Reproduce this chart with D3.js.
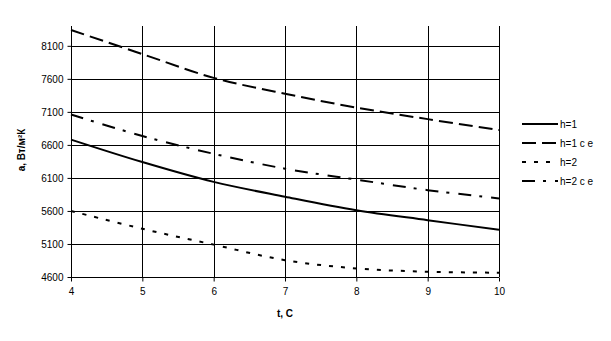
<!DOCTYPE html>
<html>
<head>
<meta charset="utf-8">
<script src="https://cdn.jsdelivr.net/npm/d3@7"></script>
<style>
  body { margin: 0; background: #fff; }
  text { font-family: "Liberation Sans", Arial, sans-serif; }
</style>
</head>
<body>
<svg width="611" height="341"></svg>
<script>
let svg = d3.select("svg");
let margin = {top: 26, bottom: 64, right: 112, left: 71};
const width = 611;
const height = 341;

// data
let tValues = [4, 5, 6, 7, 8, 9, 10];
let h1 = [6680, 6340, 6040, 5815, 5610, 5460, 5315];
let h1ce = [8340, 7975, 7615, 7375, 7165, 6990, 6825];
let h2 = [5600, 5330, 5090, 4855, 4730, 4680, 4665];
let h2ce = [7060, 6735, 6465, 6240, 6075, 5915, 5790];
let seriesNames = ["h=1", "h=1 c e", "h=2", "h=2 c e"];
let yTicks = [4600, 5100, 5600, 6100, 6600, 7100, 7600, 8100];

let series = [
  {name: seriesNames[0], values: h1, dash: null},
  {name: seriesNames[1], values: h1ce, dash: "14,6"},
  {name: seriesNames[2], values: h2, dash: "4,8"},
  {name: seriesNames[3], values: h2ce, dash: "13,8,3,9"}
];

//scales
let xScale = d3.scaleLinear().domain([4, 10]).range([margin.left, width - margin.right]);
let yScale = d3.scaleLinear().domain([4600, 8400]).range([height - margin.bottom, margin.top]);

// gridlines
svg.append("g")
  .selectAll("line")
  .data(yTicks)
  .join("line")
  .attr("x1", xScale(4)).attr("x2", xScale(10))
  .attr("y1", d => Math.round(yScale(d)) + 0.5).attr("y2", d => Math.round(yScale(d)) + 0.5)
  .attr("stroke", "#000");
svg.append("g")
  .selectAll("line")
  .data(tValues)
  .join("line")
  .attr("x1", d => Math.round(xScale(d)) + 0.5).attr("x2", d => Math.round(xScale(d)) + 0.5)
  .attr("y1", yScale(4600)).attr("y2", yScale(8400))
  .attr("stroke", "#000");

//axis
let yAxis = d3.axisLeft(yScale).tickValues(yTicks).tickSize(4).tickPadding(4).tickFormat(d3.format("d"));
let xAxis = d3.axisBottom(xScale).tickValues(tValues).tickSize(4).tickPadding(6).tickFormat(d3.format("d"));
let gy = svg.append("g")
  .attr("transform", `translate(${Math.round(margin.left) + 0.5}, 0)`)
  .call(yAxis);
let gx = svg.append("g")
  .attr("transform", `translate(0, ${Math.round(yScale(4600)) + 0.5})`)
  .call(xAxis);
[gx, gy].forEach(g => {
  g.selectAll("path,line").attr("stroke", "#000");
  g.selectAll("text").attr("font-size", 10).attr("fill", "#000")
    .style("font-family", "'Liberation Sans', Arial, sans-serif");
});
gy.select(".domain").attr("d", `M0,${yScale(4600)}V${yScale(8400)}`);
gx.select(".domain").attr("d", `M${xScale(4)},0H${xScale(10)}`);

// lines
let line = d3.line()
  .x((d, i) => xScale(tValues[i]))
  .y(d => yScale(d))
  .curve(d3.curveCatmullRom);

svg.append("g")
  .selectAll("path")
  .data(series)
  .join("path")
  .attr("d", d => line(d.values))
  .attr("fill", "none")
  .attr("stroke", "#000")
  .attr("stroke-width", 2)
  .attr("stroke-dasharray", d => d.dash);

// axis titles
svg.append("text")
  .attr("x", 285).attr("y", 317)
  .attr("text-anchor", "middle")
  .attr("font-size", 10).attr("font-weight", "bold")
  .text("t, C");
svg.append("text")
  .attr("transform", "translate(25, 150) rotate(-90)")
  .attr("text-anchor", "middle")
  .attr("font-size", 10).attr("font-weight", "bold")
  .text("a, Вт/м²К");

// legend
let legend = svg.append("g").attr("transform", "translate(522, 124)")
  .selectAll("g")
  .data(series)
  .join("g")
  .attr("transform", (d, i) => `translate(0, ${i * 19})`);
legend.append("line")
  .attr("x1", 0).attr("x2", 36).attr("y1", 0).attr("y2", 0)
  .attr("stroke", "#000").attr("stroke-width", 2)
  .attr("stroke-dasharray", d => d.dash);
legend.append("text")
  .attr("x", 38).attr("y", 4)
  .attr("font-size", 10)
  .text(d => d.name);
</script>
</body>
</html>
